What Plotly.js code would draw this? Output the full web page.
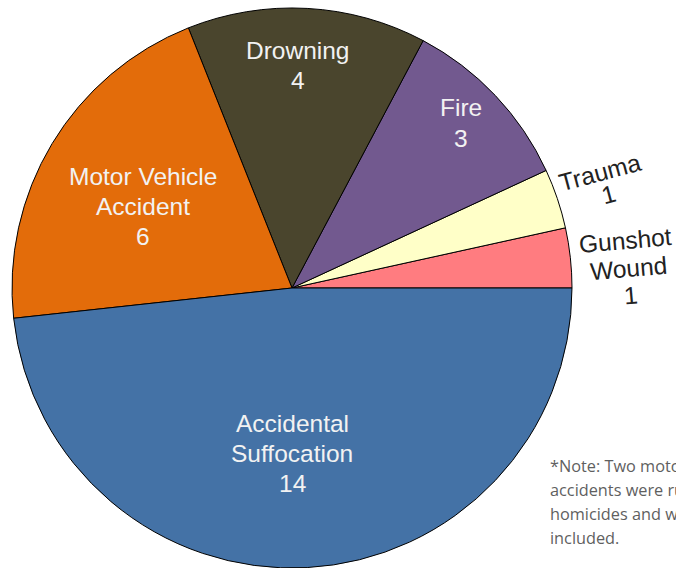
<!DOCTYPE html>
<html>
<head>
<meta charset="utf-8">
<script src="https://cdn.plot.ly/plotly-3.0.1.min.js"></script>
<style>html,body{margin:0;padding:0;background:#fff;overflow:hidden;}#chart{width:676px;height:568px;}</style>
</head>
<body>
<div id="chart"></div>
<script>
const categories = ["Gunshot Wound", "Trauma", "Fire", "Drowning", "Motor Vehicle Accident", "Accidental Suffocation"];
const values = [1, 1, 3, 4, 6, 14];
const labelLines = [["Gunshot", "Wound"], ["Trauma"], ["Fire"], ["Drowning"], ["Motor Vehicle", "Accident"], ["Accidental", "Suffocation"]];
const sliceColors = ["#FF7C80", "#FFFFC8", "#72598F", "#4A452D", "#E36C0A", "#4472A6"];
const noteLines = ["*Note: Two motor vehicle", "accidents were ruled", "homicides and were not", "included."];

// label placement: first-line centre (px), per-line step (dx, dy), angle, colour
const labelPos = [
  [625, 241, 3, 27, -5, "#222"],
  [600, 172, 9, 23, -15, "#222"],
  [461, 108, 0, 30, 0, "#F2F2F2"],
  [298, 50, 0, 30, 0, "#F2F2F2"],
  [143, 176, 0, 30, 0, "#F2F2F2"],
  [292, 423, 0, 30, 0, "#F2F2F2"]
];

const W = 676, H = 568;
const annotations = [];
categories.forEach((c, i) => {
  const lines = labelLines[i].concat([String(values[i])]);
  const p = labelPos[i];
  lines.forEach((t, k) => {
    annotations.push({
      text: t,
      x: (p[0] + k * p[2]) / W, y: 1 - (p[1] + k * p[3]) / H,
      xref: "paper", yref: "paper", xanchor: "center", yanchor: "middle",
      showarrow: false, textangle: p[4],
      font: {family: "Liberation Sans, Arial, sans-serif", size: 24.5, color: p[5]}
    });
  });
});
noteLines.forEach((t, k) => {
  annotations.push({
    text: t, x: 548 / W, y: 1 - (466 + 24 * k) / H, xref: "paper", yref: "paper",
    xanchor: "left", yanchor: "middle", align: "left", showarrow: false,
    font: {family: "Open Sans, sans-serif", size: 16.3, color: "#5f5f5f"}
  });
});

const total = values.reduce((a, b) => a + b, 0);
const data = [{
  type: "pie",
  labels: categories,
  values: values,
  sort: false,
  direction: "counterclockwise",
  rotation: 90 - 360 * values[0] / total,
  textinfo: "none",
  hoverinfo: "label+value",
  marker: {colors: sliceColors, line: {color: "#000", width: 1}},
  domain: {x: [12 / W, 572 / W], y: [0, 560 / H]}
}];

const layout = {
  width: W, height: H,
  margin: {l: 0, r: 0, t: 0, b: 0},
  paper_bgcolor: "#fff",
  showlegend: false,
  annotations: annotations
};
Plotly.newPlot("chart", data, layout, {staticPlot: true});
</script>
</body>
</html>
